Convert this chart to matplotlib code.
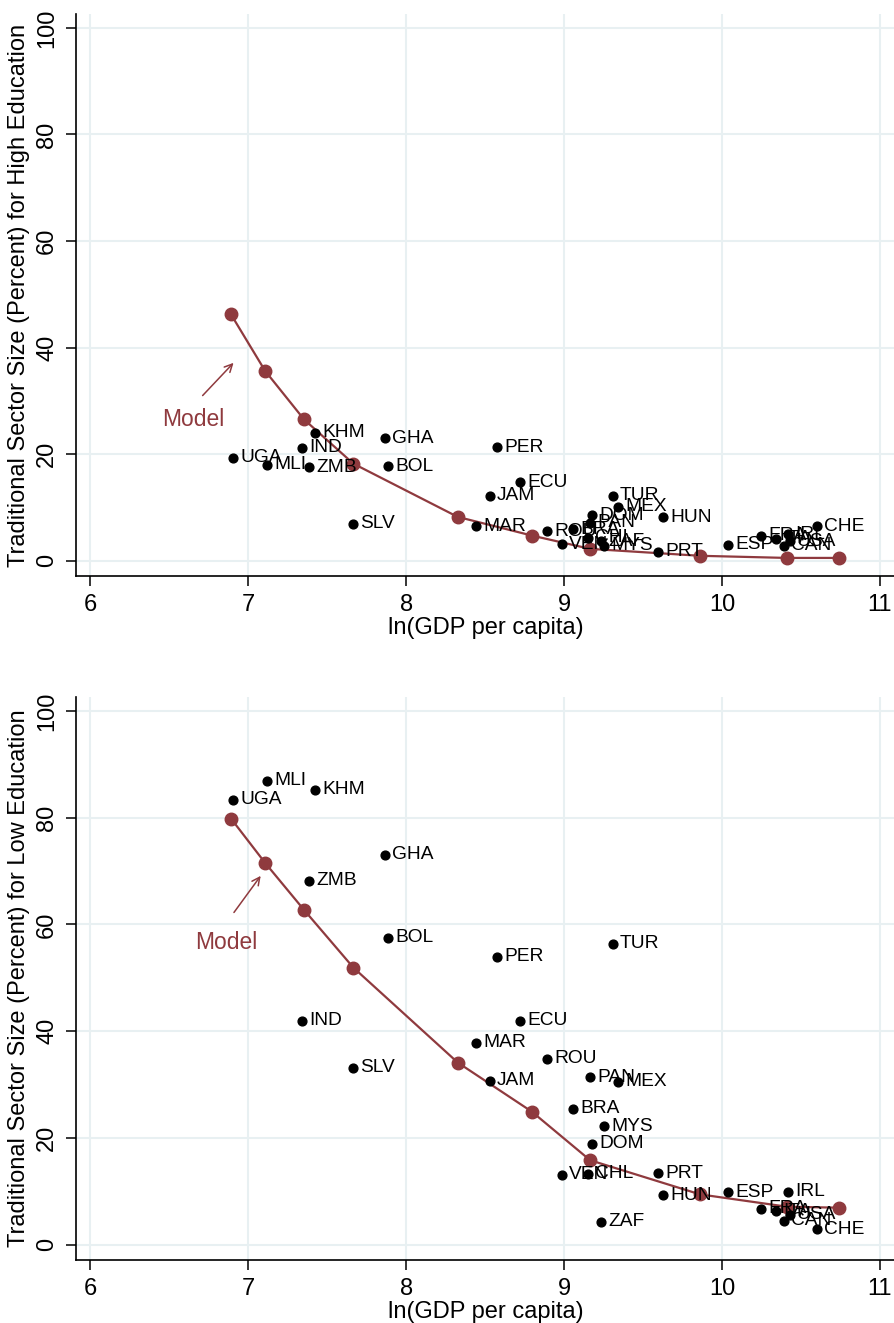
import matplotlib
matplotlib.use("Agg")
import matplotlib.pyplot as plt

plt.rcParams['font.family'] = ['Liberation Sans', 'DejaVu Sans']

# ---------------- data ----------------
countries = ["UGA", "MLI", "KHM", "IND", "ZMB", "GHA", "BOL", "SLV", "PER", "ECU",
             "JAM", "MAR", "ROU", "VEN", "BRA", "CHL", "PAN", "DOM", "ZAF", "MYS",
             "TUR", "MEX", "PRT", "HUN", "ESP", "FRA", "ITA", "CAN", "IRL", "USA", "CHE"]
ln_gdp = [6.905, 7.12, 7.424, 7.342, 7.386, 7.867, 7.886, 7.665, 8.576, 8.722,
          8.532, 8.443, 8.892, 8.987, 9.057, 9.152, 9.165, 9.177, 9.234, 9.253,
          9.31, 9.342, 9.595, 9.627, 10.038, 10.247, 10.342, 10.392, 10.418, 10.43, 10.60]
trad_high = [19.3, 18.0, 24.0, 21.2, 17.5, 23.0, 17.7, 6.9, 21.3, 14.7,
             12.2, 6.4, 5.5, 3.1, 5.9, 4.3, 7.1, 8.5, 3.6, 2.8,
             12.2, 10.1, 1.7, 8.1, 3.0, 4.7, 4.1, 2.8, 4.9, 3.6, 6.4]
trad_low = [83.3, 86.9, 85.2, 41.9, 68.2, 73.0, 57.5, 33.1, 53.9, 41.9,
            30.7, 37.8, 34.8, 13.1, 25.4, 13.3, 31.3, 18.9, 4.3, 22.2,
            56.4, 30.5, 13.4, 9.2, 9.8, 6.7, 6.2, 4.5, 9.9, 5.6, 2.9]

model_x = [6.892, 7.108, 7.354, 7.666, 8.327, 8.796, 9.165, 9.861, 10.409, 10.740]
model_high = [46.2, 35.6, 26.5, 18.2, 8.2, 4.7, 2.2, 0.9, 0.5, 0.5]
model_low = [79.8, 71.5, 62.7, 51.9, 34.1, 24.9, 15.8, 9.4, 7.1, 6.9]

xticks = [6, 7, 8, 9, 10, 11]
yticks = [0, 20, 40, 60, 80, 100]

MODEL_COLOR = "#8f3a3e"
GRID_COLOR = "#e8f0f2"

fig = plt.figure(figsize=(8.95, 13.23), dpi=100)
ax1 = fig.add_axes([0.085, 0.5646, 0.915, 0.4248])
ax2 = fig.add_axes([0.085, 0.0476, 0.915, 0.4256])


def draw(ax, yvals, model_y, ylabel, arrow_tail, arrow_head, text_pos):
    ax.set_xlim(5.911, 11.095)
    ax.set_ylim(-2.9, 102.6)
    ax.set_xticks(xticks)
    ax.set_yticks(yticks)
    ax.grid(True, color=GRID_COLOR, linewidth=1.5)
    ax.set_axisbelow(True)
    for s in ["top", "right"]:
        ax.spines[s].set_visible(False)
    for s in ["left", "bottom"]:
        ax.spines[s].set_linewidth(1.2)
    ax.tick_params(axis='both', direction='out', length=7, width=1.1,
                   labelsize=17, pad=6)
    for lab in ax.get_yticklabels():
        lab.set_rotation(90)
        lab.set_va('center')
    ax.set_xlabel("ln(GDP per capita)", fontsize=17, labelpad=1)
    ax.set_ylabel(ylabel, fontsize=17, labelpad=4)

    ax.plot(model_x, model_y, color=MODEL_COLOR, linewidth=1.6, marker='o',
            markersize=9, zorder=3)
    ax.scatter(ln_gdp, yvals, s=40, color='black', zorder=4)
    for c, x, y in zip(countries, ln_gdp, yvals):
        ax.annotate(c, (x, y), xytext=(5, 0), textcoords='offset points',
                    ha='left', va='center', fontsize=13.8, color='black', zorder=5)
    ax.annotate("", xy=arrow_head, xytext=arrow_tail,
                arrowprops=dict(arrowstyle='->', color=MODEL_COLOR, lw=1.1,
                                mutation_scale=14))
    ax.text(text_pos[0], text_pos[1], "Model", color=MODEL_COLOR, fontsize=16.5,
            ha='center', va='center')


draw(ax1, trad_high, model_high,
     "Traditional Sector Size (Percent) for High Education",
     (6.70, 30.6), (6.92, 37.5), (6.65, 26.5))
draw(ax2, trad_low, model_low,
     "Traditional Sector Size (Percent) for Low Education",
     (6.90, 61.8), (7.09, 69.5), (6.86, 56.6))

fig.savefig("out.png", dpi=100)
